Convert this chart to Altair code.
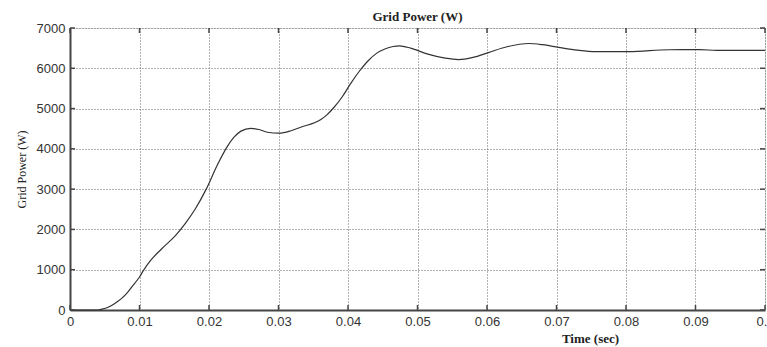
import altair as alt
import pandas as pd

time_s = [0, 0.0040, 0.0046, 0.0055, 0.0065, 0.0073, 0.0081, 0.0089, 0.0100, 0.0106,
          0.0116, 0.0132, 0.0152, 0.0166, 0.0180, 0.0196, 0.0212, 0.0226, 0.0236,
          0.0246, 0.0260, 0.0272, 0.0284, 0.0301, 0.0318, 0.0332, 0.0361, 0.0370,
          0.0380, 0.0392, 0.0403, 0.0416, 0.0429, 0.0441, 0.0453, 0.0465, 0.0474,
          0.0490, 0.0515, 0.0540, 0.0559, 0.0580, 0.0602, 0.0630, 0.0660, 0.0680,
          0.0703, 0.0730, 0.0756, 0.0804, 0.0862, 0.0906, 0.0930, 0.1000]
power_w = [0, 0, 20, 70, 170, 270, 400, 575, 820, 990,
           1230, 1520, 1850, 2150, 2500, 3000, 3600, 4050, 4290,
           4440, 4510, 4480, 4413, 4389, 4450, 4537, 4728, 4850,
           5033, 5300, 5600, 5920, 6188, 6370, 6477, 6540, 6555,
           6500, 6352, 6250, 6215, 6270, 6390, 6540, 6615, 6585,
           6520, 6450, 6413, 6413, 6460, 6463, 6446, 6446]

x_ticks = [0, 0.01, 0.02, 0.03, 0.04, 0.05, 0.06, 0.07, 0.08, 0.09, 0.1]
y_ticks = [0, 1000, 2000, 3000, 4000, 5000, 6000, 7000]

df = pd.DataFrame({"t": time_s, "p": power_w})
xt = pd.DataFrame({"t": x_ticks})
yt = pd.DataFrame({"p": y_ticks})

W, H = 695, 282
xs = alt.Scale(domain=[0, 0.1], nice=False, zero=False)
ys = alt.Scale(domain=[0, 7000], nice=False)

line = alt.Chart(df).mark_line(color="#333333", strokeWidth=1.2, interpolate="monotone").encode(
    x=alt.X("t:Q", scale=xs, axis=alt.Axis(
        values=x_ticks, format="~g", title="Time (sec)", grid=True,
        gridDash=[1, 2], gridColor="#666666", gridWidth=1, gridOpacity=1,
        ticks=False, domainColor="#444444", domainWidth=2, labelFlush=False,
        labelFont="Liberation Sans", labelFontSize=13, labelColor="#333333", labelPadding=5,
        titleFont="Liberation Serif", titleFontSize=13, titleFontWeight="bold",
        titleColor="#222222", titleX=520, titleY=28, titleBaseline="middle")),
    y=alt.Y("p:Q", scale=ys, axis=alt.Axis(
        values=y_ticks, format="d", title="Grid Power (W)", grid=True,
        gridDash=[1, 2], gridColor="#666666", gridWidth=1, gridOpacity=1,
        ticks=False, domainColor="#444444", domainWidth=2, labelFlush=False,
        labelFont="Liberation Sans", labelFontSize=13, labelColor="#333333", labelPadding=5,
        titleFont="Liberation Serif", titleFontSize=12, titleFontWeight="normal",
        titleColor="#222222", titlePadding=8)),
)

tick_style = dict(color="#444444", strokeWidth=1.5)
xb = alt.Chart(xt).mark_rule(**tick_style).encode(
    x=alt.X("t:Q", scale=xs), y=alt.value(H), y2=alt.value(H - 5))
xtop = alt.Chart(xt).mark_rule(**tick_style).encode(
    x=alt.X("t:Q", scale=xs), y=alt.value(0), y2=alt.value(5))
yl = alt.Chart(yt).mark_rule(**tick_style).encode(
    y=alt.Y("p:Q", scale=ys), x=alt.value(0), x2=alt.value(5))
yr = alt.Chart(yt).mark_rule(**tick_style).encode(
    y=alt.Y("p:Q", scale=ys), x=alt.value(W), x2=alt.value(W - 5))

chart = alt.layer(line, xb, xtop, yl, yr).properties(
    width=W, height=H,
    title=alt.TitleParams("Grid Power (W)", font="Liberation Serif", fontSize=13,
                          fontWeight="bold", color="#222222", offset=0, dy=2),
    autosize=alt.AutoSizeParams(type="none"),
    padding={"left": 70, "top": 28, "right": 2, "bottom": 37},
).configure_view(stroke="#444444", strokeWidth=1.5).configure(background="white")

chart.save("out.html", embed_options={"renderer": "svg", "actions": False})
